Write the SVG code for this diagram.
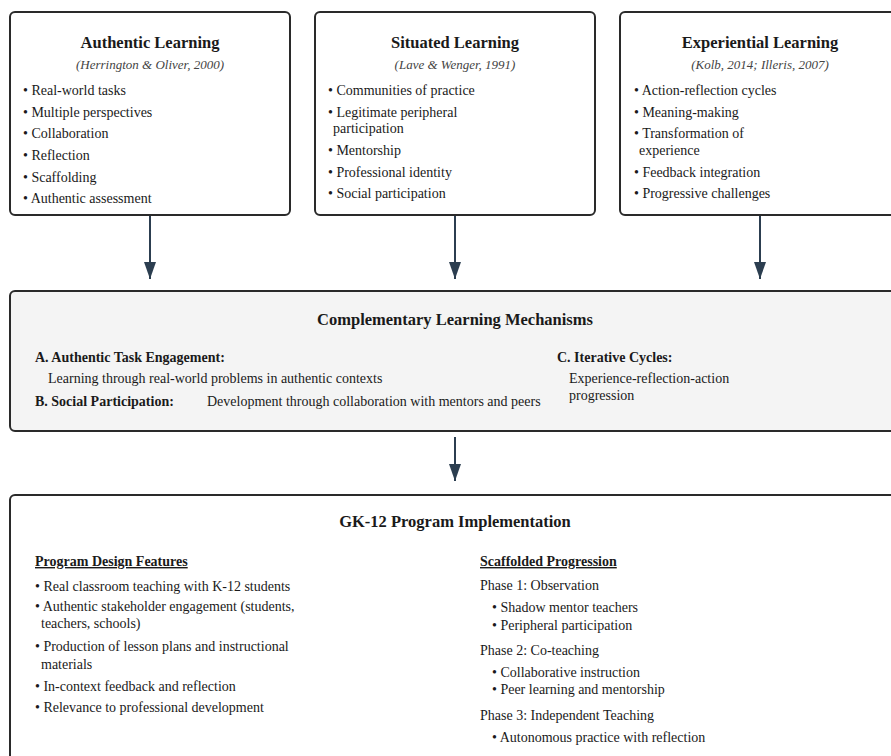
<svg xmlns="http://www.w3.org/2000/svg" width="891" height="756" viewBox="0 0 891 756">
<defs>
<marker id="ah" viewBox="0 0 17 12" refX="17" refY="6" markerWidth="17" markerHeight="12" markerUnits="userSpaceOnUse" orient="auto">
<path d="M0,0 L17,6 L0,12 Z" fill="#2c3e50"/>
</marker>
<style>
text{font-family:"Liberation Serif","Times New Roman",serif;fill:#1a1a1a}
.box{fill:#ffffff;stroke:#2a2a2a;stroke-width:2}
.mid{fill:#f4f4f4;stroke:#2a2a2a;stroke-width:2}
.t{font-size:16.5px;font-weight:bold;text-anchor:middle}
.c{font-size:13px;font-style:italic;fill:#444;text-anchor:middle}
.b{font-size:14px}
.lb{font-size:14px;font-weight:bold}
.u{text-decoration:underline}
.conn{stroke:#2c3e50;stroke-width:2;fill:none}
</style>
</defs>
<rect width="891" height="756" fill="#ffffff"/>

<g id="authentic">
<rect class="box" x="10" y="12" width="280" height="203" rx="5"/>
<text class="t" x="150" y="48">Authentic Learning</text>
<text class="c" x="150" y="69">(Herrington &amp; Oliver, 2000)</text>
<text class="b" x="23" y="95">• Real-world tasks</text>
<text class="b" x="23" y="117">• Multiple perspectives</text>
<text class="b" x="23" y="138">• Collaboration</text>
<text class="b" x="23" y="160">• Reflection</text>
<text class="b" x="23" y="182">• Scaffolding</text>
<text class="b" x="23" y="203">• Authentic assessment</text>
</g>

<g id="situated">
<rect class="box" x="315" y="12" width="280" height="203" rx="5"/>
<text class="t" x="455" y="48">Situated Learning</text>
<text class="c" x="455" y="69">(Lave &amp; Wenger, 1991)</text>
<text class="b" x="328" y="95">• Communities of practice</text>
<text class="b" x="328" y="117">• Legitimate peripheral</text>
<text class="b" x="333" y="133">participation</text>
<text class="b" x="328" y="155">• Mentorship</text>
<text class="b" x="328" y="177">• Professional identity</text>
<text class="b" x="328" y="198">• Social participation</text>
</g>

<g id="experiential">
<rect class="box" x="620" y="12" width="280" height="203" rx="5"/>
<text class="t" x="760" y="48">Experiential Learning</text>
<text class="c" x="760" y="69">(Kolb, 2014; Illeris, 2007)</text>
<text class="b" x="634" y="95">• Action-reflection cycles</text>
<text class="b" x="634" y="117">• Meaning-making</text>
<text class="b" x="634" y="138">• Transformation of</text>
<text class="b" x="639" y="155">experience</text>
<text class="b" x="634" y="177">• Feedback integration</text>
<text class="b" x="634" y="198">• Progressive challenges</text>
</g>

<g id="mechanisms">
<rect class="mid" x="10" y="291" width="895" height="140" rx="5"/>
<text class="t" x="455" y="325">Complementary Learning Mechanisms</text>
<text class="lb" x="35" y="362">A. Authentic Task Engagement:</text>
<text class="b" x="48" y="383">Learning through real-world problems in authentic contexts</text>
<text class="lb" x="35" y="406">B. Social Participation:</text>
<text class="b" x="207" y="406">Development through collaboration with mentors and peers</text>
<text class="lb" x="557" y="362">C. Iterative Cycles:</text>
<text class="b" x="569" y="383">Experience-reflection-action</text>
<text class="b" x="569" y="400">progression</text>
</g>

<g id="implementation">
<rect class="box" x="10" y="495" width="895" height="275" rx="5"/>
<text class="t" x="455" y="527">GK-12 Program Implementation</text>
<text class="lb u" x="35" y="566">Program Design Features</text>
<text class="b" x="35" y="591">• Real classroom teaching with K-12 students</text>
<text class="b" x="35" y="611">• Authentic stakeholder engagement (students,</text>
<text class="b" x="41" y="628">teachers, schools)</text>
<text class="b" x="35" y="651">• Production of lesson plans and instructional</text>
<text class="b" x="41" y="669">materials</text>
<text class="b" x="35" y="691">• In-context feedback and reflection</text>
<text class="b" x="35" y="712">• Relevance to professional development</text>
<text class="lb u" x="480" y="566">Scaffolded Progression</text>
<text class="b" x="480" y="590">Phase 1: Observation</text>
<text class="b" x="492" y="612">• Shadow mentor teachers</text>
<text class="b" x="492" y="630">• Peripheral participation</text>
<text class="b" x="480" y="655">Phase 2: Co-teaching</text>
<text class="b" x="492" y="677">• Collaborative instruction</text>
<text class="b" x="492" y="694">• Peer learning and mentorship</text>
<text class="b" x="480" y="720">Phase 3: Independent Teaching</text>
<text class="b" x="492" y="742">• Autonomous practice with reflection</text>
</g>

<g id="connectors">
<line class="conn" x1="150" y1="216" x2="150" y2="279" marker-end="url(#ah)"/>
<line class="conn" x1="455" y1="216" x2="455" y2="279" marker-end="url(#ah)"/>
<line class="conn" x1="760" y1="216" x2="760" y2="279" marker-end="url(#ah)"/>
<line class="conn" x1="455" y1="437" x2="455" y2="481" marker-end="url(#ah)"/>
</g>
</svg>
